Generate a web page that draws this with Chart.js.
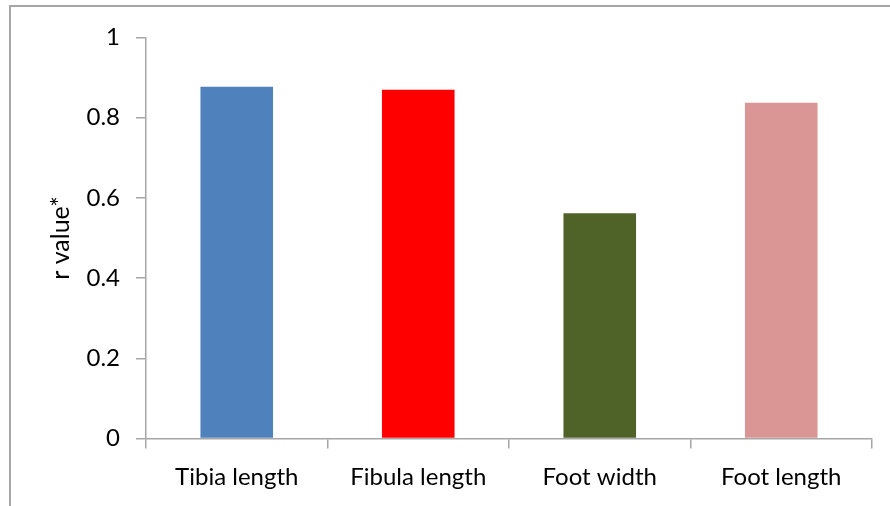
<!DOCTYPE html>
<html>
<head>
<meta charset="utf-8">
<script src="https://cdn.jsdelivr.net/npm/chart.js@4/dist/chart.umd.min.js"></script>
<style>
html,body{margin:0;padding:0;background:#fff;}
#wrap{width:890px;height:506px;position:relative;}
</style>
</head>
<body>
<div id="wrap"><canvas id="c" width="890" height="506"></canvas></div>
<script>
const categories = ["Tibia length", "Fibula length", "Foot width", "Foot length"];
const rValues = [0.877, 0.870, 0.562, 0.837];
const barColors = ["#4F81BD", "#FF0000", "#4F6228", "#D99694"];
const yTicks = [0, 0.2, 0.4, 0.6, 0.8, 1];
const yTitle = "r value*";

const FONT = "Lato, 'Open Sans', sans-serif";

const borderPlugin = {
  id: 'frame',
  beforeDraw(chart) {
    const ctx = chart.ctx;
    ctx.save();
    ctx.fillStyle = '#fff';
    ctx.fillRect(0, 0, chart.width, chart.height);
    ctx.strokeStyle = '#a6a6a6';
    ctx.lineWidth = 2;
    ctx.strokeRect(10, 6, 900, 520);
    ctx.restore();
  }
};

new Chart(document.getElementById('c'), {
  type: 'bar',
  data: {
    labels: categories,
    datasets: [{
      data: rValues,
      backgroundColor: barColors,
      borderWidth: 0,
      barPercentage: 0.4,
      categoryPercentage: 1.0
    }]
  },
  options: {
    responsive: false,
    animation: false,
    devicePixelRatio: 1,
    layout: { padding: { left: 46, top: 37.5, right: 18, bottom: 0 } },
    plugins: { legend: { display: false }, tooltip: { enabled: false } },
    scales: {
      y: {
        min: 0, max: 1,
        afterBuildTicks(axis) { axis.ticks = yTicks.map(v => ({ value: v })); },
        afterFit(axis) { axis.width = 100; },
        ticks: {
          color: '#000',
          font: { family: FONT, size: 24 },
          padding: 16,
          callback: v => String(v)
        },
        grid: { drawOnChartArea: false, drawTicks: true, tickLength: 10, color: '#a6a6a6', lineWidth: 1.5 },
        border: { display: true, color: '#a6a6a6', width: 1.5 },
        title: { display: true, text: yTitle, color: '#000', font: { family: FONT, size: 25 }, padding: 0 }
      },
      x: {
        afterFit(axis) { axis.height = 67.5; },
        ticks: { color: '#000', font: { family: FONT, size: 24 }, padding: 14 },
        grid: { offset: true, drawOnChartArea: false, drawTicks: true, tickLength: 10, color: '#a6a6a6', lineWidth: 1.5 },
        border: { display: true, color: '#a6a6a6', width: 1.5 }
      }
    }
  },
  plugins: [borderPlugin]
});
</script>
</body>
</html>
